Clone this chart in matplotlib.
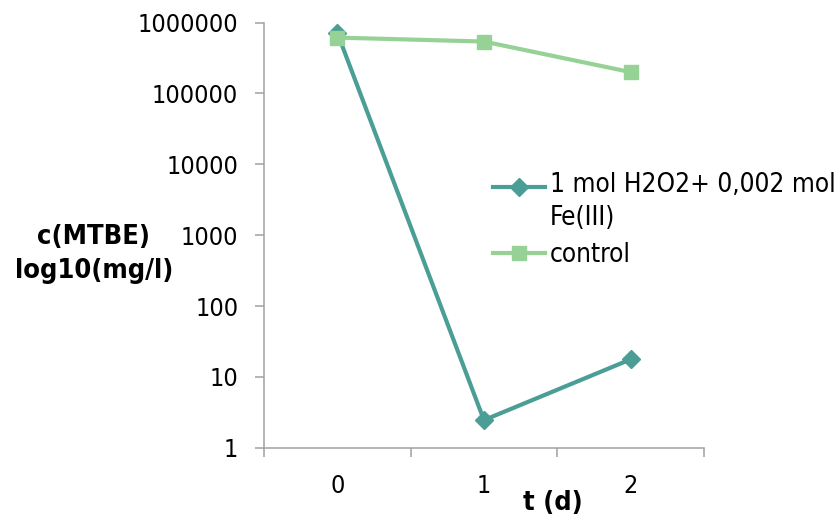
import matplotlib
matplotlib.use("Agg")
import matplotlib.pyplot as plt
from matplotlib.ticker import FixedLocator, NullLocator, FuncFormatter
from matplotlib.legend_handler import HandlerLine2D
from matplotlib.transforms import Affine2D

days = [0, 1, 2]
day_labels = ["0", "1", "2"]
fenton = [716000, 2.46, 17.7]
control = [614000, 540000, 200000]
fenton_label = "1 mol H2O2+ 0,002 mol\nFe(III)"
control_label = "control"
y_ticks = [1, 10, 100, 1000, 10000, 100000, 1000000]

teal = "#4A9E96"
green = "#96D296"
grey = "#A0A0A0"

plt.rcParams["font.family"] = "DejaVu Sans"
plt.rcParams["font.stretch"] = "condensed"
plt.rcParams["font.size"] = 18


class FirstLineHandler(HandlerLine2D):
    # put the legend line next to the first text line of a two-line label
    def create_artists(self, legend, orig_handle, xdescent, ydescent, width, height, fontsize, trans):
        trans = trans + Affine2D().translate(0, 15.5)
        return super().create_artists(legend, orig_handle, xdescent, ydescent, width, height, fontsize, trans)


fig = plt.figure(figsize=(8.38, 5.25), dpi=100)
ax = fig.add_axes([0.315, 0.147, 0.525, 0.810])

l1, = ax.plot(days, fenton, color=teal, lw=3, marker="D", ms=9, label=fenton_label)
l2, = ax.plot(days, control, color=green, lw=3, marker="s", ms=10, label=control_label)

ax.set_yscale("log")
ax.set_ylim(1, 1000000)
ax.set_xlim(-0.5, 2.5)
ax.yaxis.set_major_locator(FixedLocator(y_ticks))
ax.yaxis.set_minor_locator(NullLocator())
ax.yaxis.set_major_formatter(FuncFormatter(lambda v, p: "%d" % round(v)))
ax.set_xticks(days)
ax.set_xticklabels(day_labels)
ax.xaxis.set_minor_locator(FixedLocator([-0.5, 0.5, 1.5, 2.5]))

for s in ["top", "right"]:
    ax.spines[s].set_visible(False)
for s in ["left", "bottom"]:
    ax.spines[s].set_color(grey)
    ax.spines[s].set_linewidth(1.1)

ax.tick_params(axis="y", which="major", length=6.5, color=grey, width=1.1, pad=12)
ax.tick_params(axis="x", which="major", length=0, pad=19)
ax.tick_params(axis="x", which="minor", length=6.5, color=grey, width=1.1)

fig.text(0.112, 0.516, "c(MTBE)\nlog10(mg/l)", ha="center", va="center",
         fontweight="bold", fontsize=19.5, linespacing=1.42)
fig.text(0.66, 0.042, "t (d)", ha="center", va="center", fontweight="bold", fontsize=19.5)

leg = ax.legend(loc="upper left", bbox_to_anchor=(0.588, 0.672), bbox_transform=fig.transFigure,
                frameon=False, borderpad=0, borderaxespad=0, handlelength=2.0,
                handletextpad=0.2, labelspacing=0.43, fontsize=18.8,
                handler_map={l1: FirstLineHandler()})
for t in leg.get_texts():
    t.set_linespacing(1.35)

fig.savefig("out.png", dpi=100)
